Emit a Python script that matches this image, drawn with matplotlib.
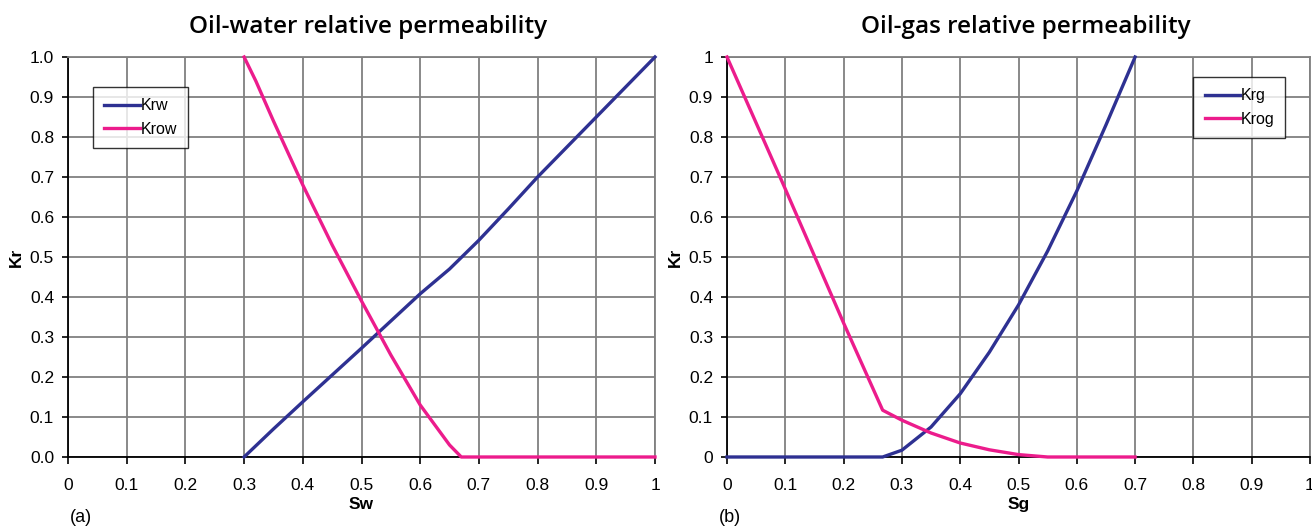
import matplotlib.pyplot as plt
from matplotlib.ticker import FuncFormatter

# Datos
sw = [0.3, 0.35, 0.4, 0.45, 0.5, 0.55, 0.6, 0.65, 0.7, 0.75, 0.8, 0.85, 0.9, 0.95, 1.0]
krw = [0.0, 0.07, 0.138, 0.205, 0.272, 0.34, 0.408, 0.47, 0.542, 0.62, 0.70, 0.775, 0.85, 0.925, 1.0]
sw_o = [0.3, 0.32, 0.35, 0.4, 0.45, 0.5, 0.55, 0.6, 0.65, 0.67, 0.7, 0.8, 0.9, 1.0]
krow = [1.0, 0.94, 0.84, 0.68, 0.53, 0.39, 0.255, 0.13, 0.03, 0.0, 0.0, 0.0, 0.0, 0.0]

sg = [0.0, 0.1, 0.2, 0.267, 0.3, 0.35, 0.4, 0.45, 0.5, 0.55, 0.6, 0.65, 0.7]
krg = [0.0, 0.0, 0.0, 0.0, 0.017, 0.075, 0.158, 0.262, 0.38, 0.515, 0.665, 0.83, 1.0]
krog = [1.0, 0.67, 0.335, 0.117, 0.092, 0.06, 0.035, 0.018, 0.006, 0.0, 0.0, 0.0, 0.0]

ticks = [0, 0.1, 0.2, 0.3, 0.4, 0.5, 0.6, 0.7, 0.8, 0.9, 1.0]

BLUE = '#2e3192'
PINK = '#ec1c8c'
GRID = '#808080'

plt.rcParams['font.family'] = ['Liberation Sans', 'DejaVu Sans']

fig = plt.figure(figsize=(13.12, 5.28), dpi=100)
ax1 = fig.add_axes([68/1312, 71/528, 587/1312, 400/528])
ax2 = fig.add_axes([727/1312, 71/528, 583/1312, 400/528])

def fmt_g(v, pos):
    return f'{v:g}'

panels = [
    (ax1, 'Oil-water relative permeability', 'Sw',
     [(sw, krw, BLUE, 'Krw'), (sw_o, krow, PINK, 'Krow')], (0.043, 0.925), True),
    (ax2, 'Oil-gas relative permeability', 'Sg',
     [(sg, krg, BLUE, 'Krg'), (sg, krog, PINK, 'Krog')], (0.80, 0.95), False),
]

for ax, title, xlab, series, legpos, one_dec in panels:
    for x, y, c, lab in series:
        ax.plot(x, y, color=c, lw=2.4, label=lab, clip_on=False, zorder=3)
    ax.set_xlim(0, 1)
    ax.set_ylim(0, 1)
    ax.set_xticks(ticks)
    ax.set_yticks(ticks)
    ax.xaxis.set_major_formatter(FuncFormatter(fmt_g))
    if one_dec:
        ax.yaxis.set_major_formatter(FuncFormatter(lambda v, p: f'{v:.1f}'))
    else:
        ax.yaxis.set_major_formatter(FuncFormatter(fmt_g))
    ax.grid(True, color=GRID, lw=1.3)
    ax.set_axisbelow(True)
    for s in ['top', 'right']:
        ax.spines[s].set_color(GRID)
        ax.spines[s].set_linewidth(1.3)
    for s in ['left', 'bottom']:
        ax.spines[s].set_color('black')
        ax.spines[s].set_linewidth(1.3)
    ax.tick_params(axis='y', direction='out', length=4, width=1.2, labelsize=12.5, pad=6)
    ax.tick_params(axis='x', direction='out', length=5, width=1.2, labelsize=12.5, pad=10)
    ax.set_title(title, family='Open Sans', fontsize=17.5, fontweight='semibold',
                 pad=17, x=0.512)
    ax.set_xlabel(xlab, fontsize=12.5, fontweight='bold', labelpad=3)
    ax.set_ylabel('Kr', fontsize=12.5, fontweight='bold', labelpad=4)
    leg = ax.legend(loc='upper left', bbox_to_anchor=legpos, borderaxespad=0,
                    fontsize=11.5, frameon=True, fancybox=False, handlelength=2.2,
                    handletextpad=0.05, borderpad=0.7, labelspacing=0.55)
    leg.get_frame().set_edgecolor('black')
    leg.get_frame().set_linewidth(1.0)

fig.text(70/1312, 10/528, '(a)', fontsize=13, ha='left', va='center')
fig.text(719/1312, 10/528, '(b)', fontsize=13, ha='left', va='center')

plt.savefig('out.png', dpi=100)
